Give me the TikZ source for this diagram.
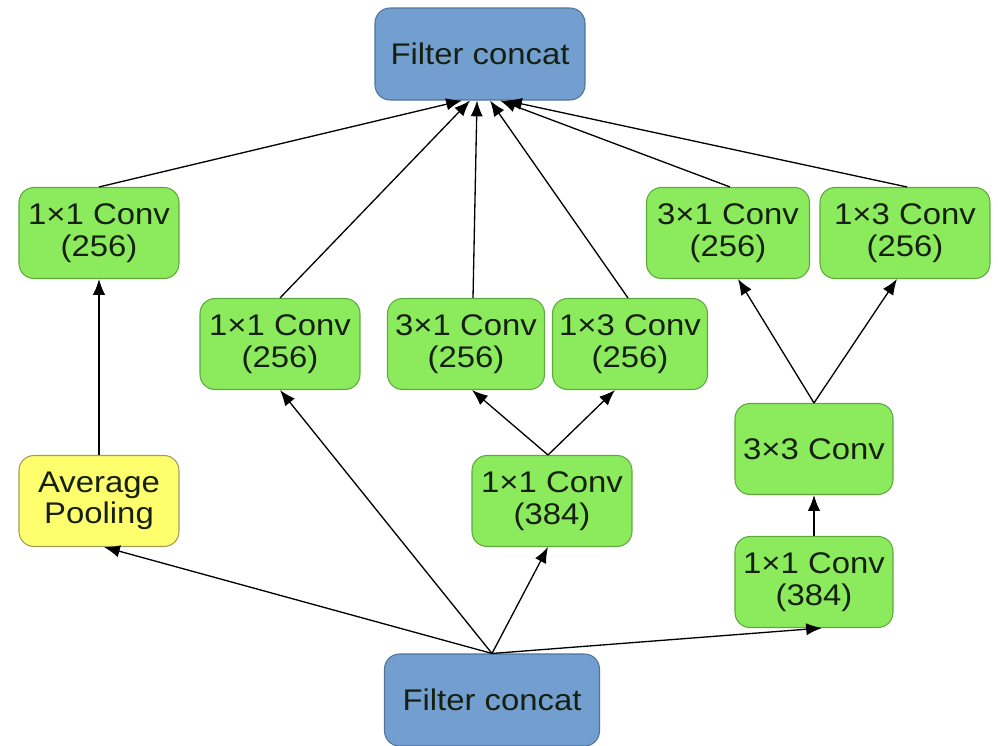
\documentclass[tikz,border=0pt]{standalone}
\usepackage{fontspec}
\setmainfont[FakeStretch=1.1]{Liberation Sans}
\usetikzlibrary{arrows.meta,calc}
\definecolor{convgreen}{HTML}{8CEB5C}
\definecolor{convedge}{HTML}{5FA83F}
\definecolor{concatblue}{HTML}{729FCF}
\definecolor{concatedge}{HTML}{4F739C}
\definecolor{poolyellow}{HTML}{FFFF6D}
\definecolor{pooledge}{HTML}{9E9E5A}
\definecolor{labeltext}{HTML}{152010}
\begin{document}
\begin{tikzpicture}
		[x=0.02cm, y=-0.02cm,
		block/.style ={rectangle, draw=convedge, line width=0.6pt, fill=convgreen, text=labeltext, align=center, rounded corners=0.3cm, minimum width=3.2cm, minimum height=1.82cm, inner sep=0pt, font=\fontsize{17}{18}\selectfont},
		concat/.style ={block, draw=concatedge, fill=concatblue, minimum width=4.2cm, minimum height=1.84cm},
		pool/.style ={block, draw=pooledge, fill=poolyellow},
		line/.style ={draw, line width=0.75pt, -{Latex[length=9pt,width=7pt]}},
		]
		\useasboundingbox (0,0) rectangle (998,746);

		\draw (480,54) node[concat] (F2) {Filter concat};
		\draw (492,700) node[concat, minimum width=4.3cm] (F1) {Filter concat};
		\draw (99,233) node[block] (C1) {1×1 Conv\\(256)};
		\draw (99,501) node[pool] (P) {Average\\Pooling};
		\draw (280,344) node[block] (C2) {1×1 Conv\\(256)};
		\draw (466,344) node[block, minimum width=3.14cm] (C3a) {3×1 Conv\\(256)};
		\draw (630,344) node[block, minimum width=3.1cm] (C3b) {1×3 Conv\\(256)};
		\draw (552,501) node[block] (C3) {1×1 Conv\\(384)};
		\draw (728,233) node[block, minimum width=3.26cm] (C4a) {3×1 Conv\\(256)};
		\draw (905,233) node[block, minimum width=3.4cm] (C4b) {1×3 Conv\\(256)};
		\draw (814,449) node[block, minimum width=3.16cm] (C4m) {3×3 Conv};
		\draw (814,582) node[block, minimum width=3.16cm] (C4) {1×1 Conv\\(384)};

		% input to branches
		\path[line] (F1.north) -- ([xshift=0.1cm]P.south);
		\path[line] (F1.north) -- (C2.south);
		\path[line] (F1.north) -- ([xshift=-0.08cm]C3.south);
		\path[line] (F1.north) -- ([xshift=0.16cm]C4.south);

		% inner branches
		\path[line] (P.north) -- (C1.south);
		\path[line] ([xshift=-0.08cm]C3.north) -- ([xshift=0.12cm]C3a.south);
		\path[line] ([xshift=-0.08cm]C3.north) -- ([xshift=-0.3cm]C3b.south);
		\path[line] (C4.north) -- (C4m.south);
		\path[line] (C4m.north) -- ([xshift=0.2cm]C4a.south);
		\path[line] (C4m.north) -- ([xshift=-0.16cm]C4b.south);

		% branches to output
		\path[line] (C1.north) -- ($(F2.south)+(-18,0)$);
		\path[line] (C2.north) -- ($(F2.south)+(-10,0)$);
		\path[line] ([xshift=0.14cm]C3a.north) -- ($(F2.south)+(-3,0)$);
		\path[line] ([xshift=-0.04cm]C3b.north) -- ($(F2.south)+(10,0)$);
		\path[line] ([xshift=0.04cm]C4a.north) -- ($(F2.south)+(20,0)$);
		\path[line] ([xshift=0.04cm]C4b.north) -- ($(F2.south)+(26,0)$);

	\end{tikzpicture}
\end{document}
